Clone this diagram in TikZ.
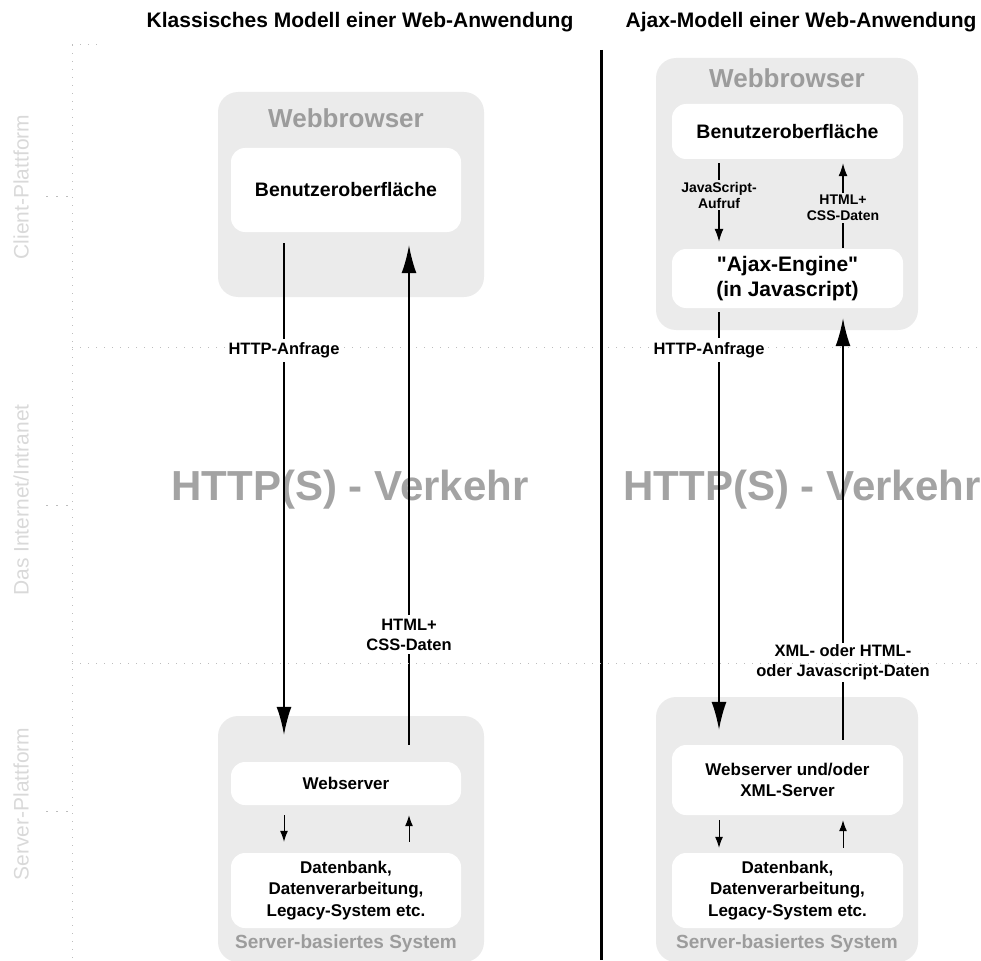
\documentclass[tikz,border=0pt]{standalone}
\usepackage{fontspec}
\setmainfont{Liberation Sans}[Ligatures=TeXOff]
\usetikzlibrary{arrows.meta,positioning}
\definecolor{boxgray}{HTML}{EBEBEB}
\definecolor{titlegray}{HTML}{9C9C9C}
\definecolor{trafficgray}{HTML}{A3A3A3}
\definecolor{axisgray}{HTML}{D9D9D9}
\definecolor{dotgray}{HTML}{BDBDBD}
\newcommand{\fs}[1]{\fontsize{#1}{#1}\selectfont}

\begin{document}
\begin{tikzpicture}[x=1pt,y=-1pt,
  outerbox/.style={fill=boxgray, rounded corners=20pt, inner sep=0pt},
  innerbox/.style={fill=white, rounded corners=14pt, inner sep=0pt, align=center,
    font=\bfseries\fontsize{17}{21.5}\selectfont},
  boxtitle/.style={text=titlegray, font=\bfseries\fs{26}},
  systitle/.style={text=titlegray, font=\bfseries\fs{19}},
  heading/.style={font=\bfseries\fs{21}},
  traffic/.style={text=trafficgray, font=\bfseries\fs{42}},
  layer/.style={text=axisgray, font=\fs{21}, rotate=90},
  lbl/.style={fill=white, inner sep=4pt, align=center, font=\bfseries\fontsize{16.5}{20}\selectfont},
  smalllbl/.style={fill=boxgray, inner sep=2pt, align=center, font=\bfseries\fontsize{14}{16}\selectfont},
  gridline/.style={dotgray, line width=1pt, dash pattern=on 1pt off 7pt},
  bigarrow/.style={-{Latex[length=28pt,width=15pt]}, line width=1.8pt},
  midarrow/.style={-{Latex[length=13pt,width=9pt]}, line width=1.3pt},
  smallarrow/.style={-{Latex[length=11pt,width=8pt]}, line width=1pt}]
  \useasboundingbox (0,0) rectangle (981,960);

  % layers
  \draw[gridline] (72,45) -- (72,960);
  \draw[gridline] (72,45) -- (102,45);
  \draw[gridline] (72,347) -- (981,347);
  \draw[gridline] (72,663) -- (981,663);
  \foreach \y in {196,505,811}
    \draw[gridline, dash pattern=on 2pt off 8pt] (46,\y) -- (72,\y);
  \node[layer] (client) at (21,187) {Client-Plattform};
  \node[layer] (internet) at (21,500) {Das Internet/Intranet};
  \node[layer] (server) at (21,804) {Server-Plattform};

  \node[heading] (hclassic) at (360,22) {Klassisches Modell einer Web-Anwendung};
  \node[heading] (hajax) at (801,22) {Ajax-Modell einer Web-Anwendung};
  \draw[line width=3pt] (601,50) -- (601,960);

  \node[traffic] (traffic1) at (350,490) {HTTP(S) - Verkehr};
  \node[traffic] (traffic2) at (802,490) {HTTP(S) - Verkehr};

  % classic model
  \node[outerbox, minimum width=266pt, minimum height=205pt] (wb1) at (351,194.5) {};
  \node[boxtitle] (wb1t) at (346,118) {Webbrowser};
  \node[innerbox, minimum width=230pt, minimum height=84pt, font=\bfseries\fs{19.5}] (ui1) at (346,190) {Benutzeroberfläche};
  \node[outerbox, minimum width=266pt, minimum height=246pt] (sv1) at (351,839) {};
  \node[innerbox, minimum width=230pt, minimum height=43pt] (ws1) at (346,783.5) {Webserver};
  \node[innerbox, minimum width=230pt, minimum height=75pt] (db1) at (346,890.5) {Datenbank,\\Datenverarbeitung,\\Legacy-System etc.};
  \node[systitle] (sv1t) at (346,944) {Server-basiertes System};

  \draw[bigarrow, shorten <=11pt, shorten >=27pt] ([xshift=-62pt]ui1.south) -- ([xshift=-62pt]ui1.south |- ws1.north)
    node[lbl, pos=0.223] {HTTP-Anfrage};
  \draw[bigarrow, shorten <=17pt, shorten >=13pt] ([xshift=63pt]ws1.north) -- ([xshift=63pt]ws1.north |- ui1.south)
    node[lbl, pos=0.24] {HTML+\\CSS-Daten};
  \draw[smallarrow, shorten <=10pt, shorten >=11pt] ([xshift=-62pt]ws1.south) -- ([xshift=-62pt]ws1.south |- db1.north);
  \draw[smallarrow, shorten <=11pt, shorten >=10pt] ([xshift=63pt]db1.north) -- ([xshift=63pt]db1.north |- ws1.south);

  % ajax model
  \node[outerbox, minimum width=262pt, minimum height=272pt] (wb2) at (787,194) {};
  \node[boxtitle] (wb2t) at (787,78) {Webbrowser};
  \node[innerbox, minimum width=231pt, minimum height=55pt, font=\bfseries\fs{19.5}] (ui2) at (787.5,131.5) {Benutzeroberfläche};
  \node[innerbox, minimum width=231pt, minimum height=59pt, font=\bfseries\fontsize{21}{25}\selectfont] (ajax) at (787.5,278.5) {"Ajax-Engine"\\(in Javascript)};
  \node[outerbox, minimum width=262pt, minimum height=265pt] (sv2) at (787,829.5) {};
  \node[innerbox, minimum width=231pt, minimum height=70pt] (ws2) at (787.5,780) {Webserver und/oder\\XML-Server};
  \node[innerbox, minimum width=231pt, minimum height=75pt] (db2) at (787.5,890.5) {Datenbank,\\Datenverarbeitung,\\Legacy-System etc.};
  \node[systitle] (sv2t) at (787,944) {Server-basiertes System};

  \draw[midarrow, shorten <=4pt, shorten >=7pt] ([xshift=-68.5pt]ui2.south) -- ([xshift=-68.5pt]ui2.south |- ajax.north)
    node[smalllbl, pos=0.4] {JavaScript-\\Aufruf};
  \draw[midarrow, shorten <=1pt, shorten >=4pt] ([xshift=55.5pt]ajax.north) -- ([xshift=55.5pt]ajax.north |- ui2.south)
    node[smalllbl, pos=0.455] {HTML+\\CSS-Daten};
  \draw[bigarrow, shorten <=4pt, shorten >=15pt] ([xshift=-68.5pt]ajax.south) -- ([xshift=-68.5pt]ajax.south |- ws2.north)
    node[lbl, pos=0.096, xshift=-10pt] {HTTP-Anfrage};
  \draw[bigarrow, shorten <=5pt, shorten >=10pt] ([xshift=55.5pt]ws2.north) -- ([xshift=55.5pt]ws2.north |- ajax.south)
    node[lbl, pos=0.188, inner sep=2pt] {XML- oder HTML-\\oder Javascript-Daten};
  \draw[smallarrow, shorten <=5pt, shorten >=5pt] ([xshift=-68.5pt]ws2.south) -- ([xshift=-68.5pt]ws2.south |- db2.north);
  \draw[smallarrow, shorten <=5pt, shorten >=5pt] ([xshift=55.5pt]db2.north) -- ([xshift=55.5pt]db2.north |- ws2.south);

  % dotted border runs on through the data label
  \draw[gridline] (72,663) -- (981,663);
\end{tikzpicture}
\end{document}
